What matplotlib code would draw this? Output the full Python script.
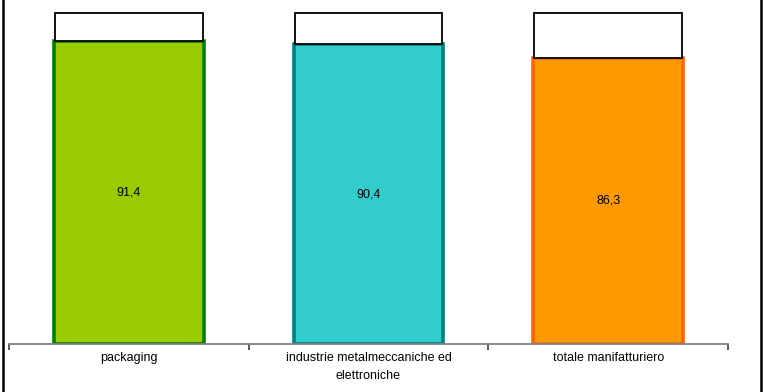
import matplotlib
matplotlib.use("Agg")
import matplotlib.pyplot as plt
from matplotlib.lines import Line2D

categories = ["packaging", "industrie metalmeccaniche ed\nelettroniche", "totale manifatturiero"]
values = [91.4, 90.4, 86.3]
total = 100
value_labels = ["91,4", "90,4", "86,3"]
fill_colors = ["#99CC00", "#33CCCC", "#FF9900"]
edge_colors = ["#008000", "#008080", "#FF6600"]

plt.rcParams['font.family'] = ['Liberation Sans', 'DejaVu Sans']

W, H = 763, 392
fig = plt.figure(figsize=(W/100, H/100), dpi=100)
ax_left, ax_right = 9, 728
ax_bottom_px, ax_top_px = 344, 0
ax = fig.add_axes([ax_left/W, (H-ax_bottom_px)/H, (ax_right-ax_left)/W, (ax_bottom_px-ax_top_px)/H])

x = list(range(len(categories)))
bw = 0.625
rest = [total - v for v in values]
ax.bar(x, values, width=bw, color=fill_colors, edgecolor=edge_colors, linewidth=2.6, zorder=2)
ax.bar(x, rest, bottom=values, width=bw*0.985, color="white", edgecolor="black", linewidth=1.3, zorder=3)

for xi, v, lab in zip(x, values, value_labels):
    ax.text(xi, v/2, lab, ha="center", va="center", fontsize=9, color="black", zorder=4)

ax.set_xlim(-0.5, len(categories)-0.5)
ax.set_ylim(0, 103.8)
for s in ["top", "right", "left"]:
    ax.spines[s].set_visible(False)
ax.spines["bottom"].set_color("#808080")
ax.spines["bottom"].set_linewidth(1.3)
ax.set_yticks([])
ax.set_xticks([-0.5, 0.5, 1.5, 2.5])
ax.set_xticklabels([])
ax.set_xticks(x, minor=True)
ax.set_xticklabels(categories, minor=True, fontsize=9, linespacing=1.6)
ax.tick_params(axis="x", which="major", length=4, width=1.2, color="#404040", direction="out")
ax.tick_params(axis="x", which="minor", length=0, pad=6)

fig.add_artist(Line2D([2.5/W, 2.5/W], [0, 1], color="black", linewidth=1.8, transform=fig.transFigure))
fig.add_artist(Line2D([761/W, 761/W], [0, 1], color="black", linewidth=1.8, transform=fig.transFigure))

fig.savefig("out.png", dpi=100, facecolor="white")
